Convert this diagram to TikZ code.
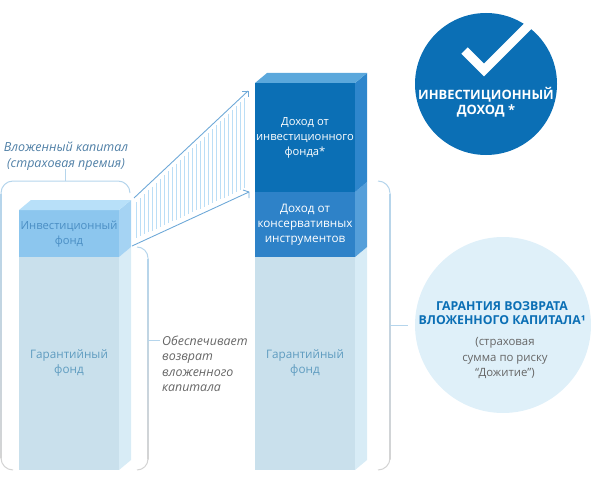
\documentclass[tikz,border=0pt]{standalone}
\usepackage{fontspec}
\setmainfont{Open Sans}
\usepackage{xcolor}
\usetikzlibrary{calc}
\definecolor{deepblue}{HTML}{0B6FB5}
\definecolor{deepside}{HTML}{2E86CC}
\definecolor{deeptop}{HTML}{5BA8DC}
\definecolor{midblue}{HTML}{2E82C8}
\definecolor{midside}{HTML}{559FDA}
\definecolor{fundblue}{HTML}{8CC6EE}
\definecolor{fundside}{HTML}{A5D3F3}
\definecolor{fundtop}{HTML}{B8E0F9}
\definecolor{guardblue}{HTML}{C9E0EC}
\definecolor{guardside}{HTML}{D8ECF6}
\definecolor{palecircle}{HTML}{DFF0F9}
\definecolor{hatchblue}{HTML}{BBDEF6}
\definecolor{rayblue}{HTML}{6FA9D8}
\definecolor{bracketblue}{HTML}{B5D5EC}
\definecolor{bracketgray}{HTML}{D4D4D4}
\definecolor{slatetext}{HTML}{4F7FA6}
\definecolor{guardtext}{HTML}{5F9CC0}
\definecolor{fundtext}{HTML}{4A8EC4}
\definecolor{noteGray}{HTML}{666666}
\tikzset{
  barlabel/.style={align=center, font=\fontsize{11.7}{15}\selectfont},
  barlabelwide/.style={align=center, font=\fontsize{11.2}{15}\selectfont},
  sidenote/.style={align=left, font=\fontsize{12.4}{15.3}\selectfont\itshape, text=noteGray, anchor=north west, inner sep=0pt},
  bracketfade/.style={top color=bracketblue, bottom color=bracketgray, draw=none},
  bracketline/.style={line width=1pt, bracketblue},
  bracketfoot/.style={line width=1pt, bracketgray},
  rayline/.style={line width=0.9pt, rayblue},
}
\begin{document}
\begin{tikzpicture}[x=1pt, y=-1pt]
  \useasboundingbox (0,0) rectangle (591,484);
  % left bar
  \fill[guardblue] (19,257) rectangle (119,470);
  \fill[guardside] (119,257) -- (131,247) -- (131,460) -- (119,470) -- cycle;
  \fill[fundblue] (19,210) rectangle (119,257);
  \fill[fundside] (119,210) -- (131,200) -- (131,247) -- (119,257) -- cycle;
  \fill[fundtop] (19,210) -- (31,200) -- (131,200) -- (119,210) -- cycle;
  \node[barlabelwide, text=fundtext] (fundleft) at (69,234.5) {Инвестиционный\\фонд};
  \node[barlabel, text=guardtext] (guardleft) at (69,363) {Гарантийный\\фонд};
  % right bar
  \fill[guardblue] (255,257) rectangle (355,470);
  \fill[guardside] (355,257) -- (367,247) -- (367,460) -- (355,470) -- cycle;
  \fill[midblue] (255,192) rectangle (355,257);
  \fill[midside] (355,192) -- (367,182) -- (367,247) -- (355,257) -- cycle;
  \fill[deepblue] (255,83) rectangle (355,192);
  \fill[deepside] (355,83) -- (367,73) -- (367,182) -- (355,192) -- cycle;
  \fill[deeptop] (255,83) -- (267,73) -- (367,73) -- (355,83) -- cycle;
  \node[barlabelwide, text=white] (incomefund) at (305,138) {Доход от\\инвестиционного\\фонда*};
  \node[barlabel, text=white] (incomesafe) at (305,224.5) {Доход от\\консервативных\\инструментов};
  \node[barlabel, text=guardtext] (guardright) at (305,363) {Гарантийный\\фонд};
  % hatching between the bars
  \foreach \x in {136,140,...,246} {
    \draw[hatchblue, line width=1pt] (\x,{202-(\x-136)*0.96}) -- (\x,{238-(\x-136)*0.46});
  }
  \coordinate (raytopa) at (134,198);
  \coordinate (raytopb) at (248,91);
  \coordinate (raylowa) at (132,246);
  \coordinate (raylowb) at (249,192);
  \draw[rayline] (raytopa) -- (raytopb);
  \draw[rayline] ($(raytopb)+(-6,0)$) -- (raytopb) -- ($(raytopb)+(0,6)$);
  \draw[rayline] (raylowa) -- (raylowb);
  \draw[rayline] ($(raylowb)+(-6,-2)$) -- (raylowb) -- ($(raylowb)+(0,6)$);
  % bracket over the left bar
  \shade[bracketfade] (0.5,193) rectangle (1.5,458);
  \draw[bracketline] (1,193) arc[start angle=180, end angle=270, radius=12] -- (118,181) arc[start angle=270, end angle=360, radius=12];
  \draw[bracketfoot] (1,458) arc[start angle=180, end angle=90, radius=12];
  \coordinate (capitaltop) at (65,181);
  \coordinate (capitalstem) at (65,169);
  \draw[bracketline] (capitaltop) -- (capitalstem);
  % bracket of the guarantee fund
  \shade[bracketfade] (147.5,258) rectangle (148.5,459);
  \draw[bracketline] (137,247) arc[start angle=-90, end angle=0, radius=11];
  \draw[bracketfoot] (148,459) arc[start angle=0, end angle=90, radius=11];
  \coordinate (returntick) at (148,340);
  \coordinate (returnnote) at (160,340);
  \draw[bracketline] (returntick) -- (returnnote);
  % bracket of the right bar
  \shade[bracketfade] (389.5,193) rectangle (390.5,459);
  \draw[bracketline] (378,181) arc[start angle=-90, end angle=0, radius=12];
  \draw[bracketfoot] (390,458) arc[start angle=0, end angle=90, radius=12];
  \coordinate (safetick) at (390,325);
  \coordinate (safeend) at (408,325);
  \draw[bracketline] (safetick) -- (safeend);
  % notes
  \node[align=center, font=\fontsize{12.5}{15.8}\selectfont\itshape, text=slatetext, inner sep=0pt] (capitalnote) at (66,156) {Вложенный капитал\\(страховая премия)};
  \node[sidenote] (returnlabel) at (162,336) {Обеспечивает\\возврат\\вложенного\\капитала};
  % circles
  \fill[deepblue] (486,84) circle (71);
  \draw[white, line width=9pt] (464.5,50.5) -- (484,70) -- (530,24);
  \node[align=center, text=white, font=\fontsize{12.9}{15.5}\selectfont\bfseries] (incomecircle) at (486,102) {ИНВЕСТИЦИОННЫЙ\\ДОХОД *};
  \fill[palecircle] (503,325) circle (88);
  \node[align=center, text=deepblue, font=\fontsize{12.3}{14.5}\selectfont\bfseries] (guaranteetitle) at (502,313) {ГАРАНТИЯ ВОЗВРАТА\\ВЛОЖЕННОГО КАПИТАЛА¹};
  \node[align=center, text=noteGray, font=\fontsize{11.4}{15.5}\selectfont, inner sep=0pt] (guaranteenote) at (505,358) {(страховая\\сумма по риску\\“Дожитие”)};
\end{tikzpicture}
\end{document}
